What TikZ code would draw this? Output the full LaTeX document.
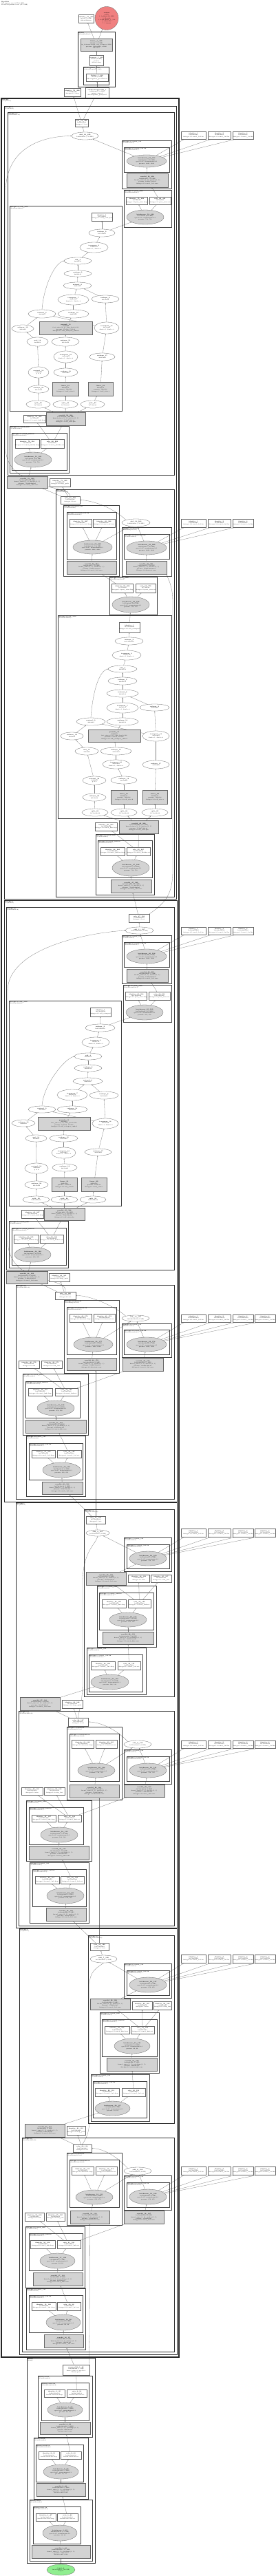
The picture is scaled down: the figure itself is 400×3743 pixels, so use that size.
\documentclass[tikz,border=0pt]{standalone}
\usepackage{tikz}
\usetikzlibrary{arrows.meta,shapes.geometric,backgrounds}

\definecolor{outred}{RGB}{240,128,128}
\definecolor{ingreen}{RGB}{144,238,144}
\definecolor{lgray}{RGB}{211,211,211}

\catcode`\_=12

\tikzset{
  every node/.style={font=\fontsize{1.9}{2.4}\selectfont, inner sep=0pt, align=center},
  wbox/.style={rectangle, draw=black!60, line width=0.3pt, fill=white},
  gbox/.style={rectangle, draw=black!60, line width=0.3pt, fill=lgray},
  well/.style={ellipse, draw=black!60, line width=0.3pt, fill=white},
  gell/.style={ellipse, draw=black!60, line width=0.3pt, fill=lgray},
  inell/.style={ellipse, draw=black!60, line width=0.3pt, fill=ingreen},
  conn/.style={draw=black!50, line width=0.3pt, -{Stealth[length=1.6pt,width=1.3pt]}},
  frA/.style={draw=black!85, line width=1.2pt},
  frB/.style={draw=black!85, line width=1pt},
  frC/.style={draw=black!80, line width=0.8pt},
  frD/.style={draw=black!75, line width=0.6pt},
  frE/.style={draw=black!75, line width=0.5pt},
  frlab/.style={anchor=north west, align=left, inner sep=0pt, xshift=1pt, yshift=-1pt,
    font=\fontsize{1.8}{2.2}\selectfont},
}

% node from its corners, cluster frame with its label
\newcommand{\nd}[7]{\node[#2, minimum width={(#5-#3)*1pt}, minimum height={(#6-#4)*1pt}] (#1) at ({(#3+#5)/2},{(#4+#6)/2}) {#7};}
\newcommand{\fr}[6]{\draw[#1] (#2,#3) rectangle (#4,#5); \node[frlab] at (#2,#3) {#6};}

% label texts
\newcommand{\Lb}[3]{\textbf{#1}\\#2\\@#3}
\newcommand{\Le}[2]{\textbf{#1}\\#2}
\newcommand{\Lg}[3]{\textbf{#1}\\#2\\eps=1e-05, momentum=0.1\\params: #3}
\newcommand{\Lc}[4]{\textbf{#1}\\#2\\kernel_size=(1, 1), stride=(1, 1)\\params: #3\\@#4}
\newcommand{\Lk}[4]{\textbf{#1}\\#2\\kernel_size=(3, 3), padding=(1, 1)\\params: #3\\@#4}
\newcommand{\Lm}[2]{\textbf{@#1}\\(#2)}

% attention layers
\newcommand{\atxt}[3]{\ifcase#1\or
\Lb{identity_#1}{#3}{stages.#2.self_attn.pool}\or
\Le{reshape_#1}{#3}\or
\textbf{transpose_#1}\\1x64x512\\dim0=-1, dim1=-2\or
\Le{add_#1}{4x64x128}\or
\Le{reshape_#1}{4x64x128}\or
\Le{matmul_#1}{4x64x128}\or
\textbf{transpose_#1}\\4x64x128\\dim0=-1, dim1=-2\or
\Le{reshape_#1}{4x128x64}\or
\Le{matmul_#1}{4x64x64}\or
\Le{reshape_#1}{4x64x128}\or
\textbf{posemb_#1}\\4x64x64\\feat_size=(8, 8), dim_head=128\\params: 15x128, 15x128\\@stages.#2.self_attn.pos_embed\or
\Le{softmax_#1}{4x64x64}\or
\textbf{transpose_#1}\\4x128x64\\dim0=-1, dim1=-2\or
\Le{mul_#1}{4x64x64}\or
\Le{reshape_#1}{4x128x64}\or
\textbf{transpose_#1}\\4x128x64\\dim0=-1, dim1=-2\or
\Le{reshape_#1}{4x128x64}\or
\textbf{matmul_#1}\\4x64x64\\q @ k\or
\Le{reshape_#1}{4x128x64}\or
\Le{reshape_#1}{4x128x64}\or
\textbf{linear_#1}\\4x64x128\\params: 128x128\\@stages.#2.self_attn.k\or
\textbf{linear_#1}\\4x64x128\\params: 128x128\\@stages.#2.self_attn.v\or
\Le{split_#1}{#3}\or
\Le{split_#1}{#3}\or
\Le{split_#1}{#3}\fi}

\newcommand{\attedges}[1]{%
  \foreach \a/\b in {2/1,3/2,4/3,5/4,6/5,7/6,8/6,10/7,11/10,12/9,13/8,13/9,14/12,15/11,16/15,17/13,18/14,19/16,20/18,21/19,22/17,23/20,24/21,25/22}{\draw[conn] (#1\a) -- (#1\b);}%
  \draw[conn] (#19.north) .. controls +(2,-30) and +(-15,4) .. (#14.west);}
\newcommand{\abedges}[2]{%
  \foreach \a/\b in {add/relu,cg/add,cc/cg,pr/cc,pg/pi,pg/pr,kc/kg,kg/ki,kg/kr,kr/qkv,kr/qi}{\draw[conn] (#1\a) -- (#1\b);}%
  \foreach \b in {23,24,25}{\draw[conn] (#1qkv) -- (#2\b);}%
  \attedges{#2}%
  \draw[conn] (#22) -- (#1pg);}
\newcommand{\dsedges}[1]{%
  \foreach \a/\b in {lc/lg,lg/li,lg/lr,lg/add,sc/sg,sg/add,kr/sc,kr/xi,kr/xj,kc/kg,kg/ki,kg/kr,mr/kc,mc/mg,mg/mi,mg/mr}{\draw[conn] (#1\a) -- (#1\b);}}
\newcommand{\idedges}[1]{%
  \foreach \a/\b in {add/relu,cg/add,cc/cg,kr/cc,kr/xi,kr/xj,kc/kg,kg/ki,kg/kr,mr/kc,mc/mg,mg/mi,mg/mr}{\draw[conn] (#1\a) -- (#1\b);}}

% row of buffer boxes on the right
\newcommand{\rrow}[7]{%
  \foreach \i/\px/\qx in {1/263/299,2/302/335,3/338/368,4/370/400}{%
    \ifnum\i>#4\relax\else
      \nd{#5\i}{wbox}{\px}{#2}{\qx}{#3}{\Lb{identity_\i}{#7}{stages.#6.conv3_1x1.bn}}%
    \fi}}
\newcommand{\redges}[3]{\foreach \i in {1,...,#2}{\draw[conn] (#1) -- ([xshift=5pt]#3\i.south west);}}

\begin{document}
\begin{tikzpicture}[x=1pt,y=-1pt]
\begin{scope}[on background layer]
  \fill[white] (0,0) rectangle (400,3743);
\end{scope}
\useasboundingbox (0,0) rectangle (400,3743);

\node[anchor=north west, align=left] (title) at (2,1.5) {\textbf{ByobNet}\\387 tensors total (171.3 MB)\\21309504 params total (81.4 MB)};

% ---------------- head
\nd{outid}{wbox}{114}{21}{136}{33}{\Lb{identity_77_333}{1x1000 (4 KB)}{head.flatten}}
\node[circle, draw=black!60, line width=0.3pt, fill=outred, minimum size=34pt] (out) at (155,26.5) {\textbf{output}\\(user)\\1. 1x1000 (3.9 KB)\\2. float32\\3. from linear_1_332\\4. @head.fc\\5. 1 tensor};
\fr{frB}{113}{46}{167}{126}{\Lm{head}{ClassifierHead}}
\nd{hdlin}{gbox}{117}{56}{163}{74}{\textbf{linear_1_332}\\1x1000 (3.9 KB)\\in_features=2048, out_features=1000\\params: 1000x2048, x1000\\@head.fc}
\nd{hddrop}{wbox}{130}{80}{150}{95}{\textbf{dropout_1_331}\\1x2048 (8 KB)\\p=0.0\\@head.drop}
\fr{frC}{121}{97}{158}{123}{\Lm{head.global_pool}{SelectAdaptivePool2d}}
\nd{hdflat}{wbox}{125}{107}{157}{118}{\Lb{flatten_1_330}{1x2048 (8 KB)}{head.global_pool.flatten}}
\nd{hdid}{wbox}{93}{128}{117}{140}{\Lb{identity_76_329}{1x2048x8x8}{stages.3.1.drop}}
\nd{hdpool}{wbox}{124}{127}{158}{142}{\textbf{adaptiveavgpool2d_1}\\1x2048x1x1 (8 KB)\\output_size=1\\@head.global_pool.pool}

\fr{frA}{2}{143}{260}{3425}{\Lm{stages}{Sequential}}

% ---------------- stage 3
\fr{frB}{6}{154}{256}{1306}{\Lm{stages.3}{Sequential}}
\fr{frC}{11}{163}{253}{690}{\Lm{stages.3.1}{SelfAttnBlock}}
\nd{s3b1relu}{wbox}{109}{173}{128}{184}{\Lb{relu_70_326}{1x2048x8x8}{stages.3.1.act}}
\nd{s3b1add}{well}{104}{192}{143}{203}{\Le{add_16_325}{1x2048x8x8 (512 KB)}}
\fr{frD}{177}{204}{249}{274}{\Lm{stages.3.1.conv3_1x1}{ConvNormAct}}
\fr{frE}{180}{214}{246}{250}{\Lm{stages.3.1.conv3_1x1.bn}{BatchNormAct2d}}
\nd{s3b1cg}{gell}{184}{225}{242}{243}{\Lg{batchnorm_53_324}{1x2048x8x8 (512 KB)}{2048, 2048}}
\nd{s3b1cc}{gbox}{184}{252}{244}{272}{\Lc{conv2d_53_323}{1x2048x8x8 (512 KB)}{2048x512x1x1}{stages.3.1.conv3_1x1.conv}}
\fr{frD}{180}{276}{249}{330}{\Lm{stages.3.1.post_attn}{BatchNormAct2d}}
\nd{s3b1pi}{wbox}{184}{286}{213}{297}{\Lb{identity_75_322}{1x512x8x8}{stages.3.1.post_attn.drop}}
\nd{s3b1pr}{wbox}{217}{286}{248}{297}{\Lb{relu_69_321}{1x512x8x8}{stages.3.1.post_attn.act}}
\nd{s3b1pg}{gell}{184}{305}{238}{326}{\Lg{batchnorm_52_320}{1x512x8x8 (128 KB)}{512, 512}}
\fr{frD}{14}{299}{177}{597}{\Lm{stages.3.1.self_attn}{BottleneckAttn}}
\foreach \i/\st/\px/\py/\qx/\qy in {1/wbox/133/309/163/321,2/well/129/333/167/344,3/well/116/352/157/367,%
4/well/93/374/133/384,5/well/93/393/133/402,6/well/92/410/133/420,7/well/84/428/129/443,8/well/133/429/173/440,%
9/well/41/450/81/462,10/well/84/450/129/462,11/gbox/57/467/134/486,12/well/17/472/49/483,13/well/137/468/173/485,%
14/well/39/490/70/503,15/well/75/490/115/503,16/well/78/510/113/527,17/well/130/513/167/524,18/well/41/533/71/549,%
19/well/78/535/113/547,20/well/41/560/71/571,21/gbox/76/555/114/575,22/gbox/128/555/164/575,%
23/well/38/582/73/593,24/well/77/582/113/593,25/well/117/582/152/593}%
  {\nd{a\i}{\st}{\px}{\py}{\qx}{\qy}{\atxt{\i}{3.1}{1x512x8x8}}}
\nd{s3b1qi}{wbox}{36}{603}{64}{614}{\Lb{identity_73_295}{1x512x8x8}{stages.3.1.conv2_kxk.drop}}
\nd{s3b1qkv}{gbox}{67}{599}{124}{618}{\Lc{conv2d_52_294}{1x1536x8x8 (384 KB)}{1536x512x1x1}{stages.3.1.self_attn.qkv}}
\fr{frD}{14}{619}{100}{687}{\Lm{stages.3.1.conv2_kxk}{ConvNormAct}}
\fr{frE}{17}{629}{97}{683}{\Lm{stages.3.1.conv2_kxk.bn}{BatchNormAct2d}}
\nd{s3b1ki}{wbox}{22}{638}{57}{651}{\Lb{identity_72_293}{1x512x8x8}{stages.3.1.conv2_kxk.bn.drop}}
\nd{s3b1kr}{wbox}{59}{638}{93}{651}{\Lb{relu_68_292}{1x512x8x8}{stages.3.1.conv2_kxk.bn.act}}
\nd{s3b1kg}{gell}{21}{657}{75}{679}{\Lg{batchnorm_51_291}{1x512x8x8 (128 KB)}{512, 512}}
\nd{s3b1kc}{gbox}{10}{692}{69}{709}{\Lc{conv2d_51_290}{1x512x8x8 (128 KB)}{512x2048x1x1}{stages.3.1.conv1_1x1.conv}}
\nd{s3b1xi}{wbox}{72}{695}{102}{707}{\Lb{identity_71_289}{1x2048x8x8}{stages.3.0.drop_path}}
\rrow{s3b1cg}{191}{202}{3}{ra}{3.1}{1x2048x8x8}

\fr{frC}{81}{711}{253}{1303}{\Lm{stages.3.0}{SelfAttnBlock}}
\nd{s3b0relu}{wbox}{88}{721}{116}{732}{\Lb{relu_67_288}{1x2048x8x8}{stages.3.0.act}}
\fr{frD}{92}{734}{173}{837}{\Lm{stages.3.0.conv3_1x1}{ConvNormAct}}
\fr{frE}{97}{744}{169}{813}{\Lm{stages.3.0.conv3_1x1.bn}{BatchNormAct2d}}
\nd{s3b0li}{wbox}{101}{754}{133}{766}{\Lb{identity_70_287}{1x2048x8x8}{stages.3.0.conv3_1x1.drop}}
\nd{s3b0lr}{wbox}{135}{754}{167}{766}{\Lb{identity_69_286}{1x2048x8x8}{stages.3.0.conv3_1x1.act}}
\nd{s3b0lg}{gell}{106}{785}{163}{805}{\Lg{batchnorm_50_285}{1x2048x8x8 (512 KB)}{2048, 2048}}
\nd{s3b0lc}{gbox}{97}{815}{169}{834}{\Lc{conv2d_50_284}{1x2048x8x8 (512 KB)}{2048x512x1x1}{stages.3.0.conv3_1x1.conv}}
\nd{s3b0add}{well}{177}{754}{218}{765}{\Le{add_14_283}{1x2048x8x8 (512 KB)}}
\fr{frD}{177}{766}{249}{837}{\Lm{stages.3.0.shortcut}{DownsampleConv}}
\fr{frE}{180}{776}{246}{812}{\Lm{stages.3.0.shortcut.conv}{ConvNormAct}}
\nd{s3b0sg}{gell}{184}{786}{242}{806}{\Lg{batchnorm_49_282}{1x2048x8x8 (512 KB)}{2048, 2048}}
\nd{s3b0sc}{gbox}{183}{815}{242}{834}{\Lc{conv2d_49_281}{1x2048x8x8 (512 KB)}{2048x1024x1x1}{stages.3.0.shortcut.conv}}
\fr{frD}{159}{838}{228}{893}{\Lm{stages.3.0.post_attn}{BatchNormAct2d}}
\nd{s3b0pi}{wbox}{163}{848}{193}{861}{\Lb{identity_68_280}{1x512x8x8}{stages.3.0.post_attn.drop}}
\nd{s3b0pr}{wbox}{197}{848}{226}{861}{\Lb{relu_66_279}{1x512x8x8}{stages.3.0.post_attn.act}}
\nd{s3b0pg}{gell}{163}{867}{217}{890}{\Lg{batchnorm_48_278}{1x512x8x8 (128 KB)}{512, 512}}
\fr{frD}{84}{894}{249}{1189}{\Lm{stages.3.0.self_attn}{BottleneckAttn}}
\foreach \i/\st/\px/\py/\qx/\qy in {1/wbox/173/904/203/919,2/well/167/926/208/937,3/well/163/945/205/959,%
4/well/157/967/199/977,5/well/157/984/199/995,6/well/155/1002/201/1013,7/well/155/1021/201/1036,8/well/203/1023/246/1033,%
9/well/111/1043/153/1054,10/well/155/1043/201/1054,11/gbox/128/1060/204/1078,12/well/88/1064/121/1075,13/well/207/1062/246/1077,%
14/well/109/1086/143/1097,15/well/146/1086/191/1097,16/well/149/1104/188/1117,17/well/207/1105/246/1117,18/well/120/1128/154/1140,%
19/well/161/1128/199/1139,20/well/120/1153/154/1164,21/gbox/161/1148/199/1168,22/gbox/207/1148/243/1168,%
23/well/119/1175/157/1186,24/well/161/1175/199/1186,25/well/206/1175/244/1186}%
  {\nd{b\i}{\st}{\px}{\py}{\qx}{\qy}{\atxt{\i}{3.0}{1x512x16x16}}}
\nd{s3b0qi}{wbox}{139}{1195}{169}{1207}{\Lb{identity_65_250}{1x512x16x16}{stages.3.0.conv2_kxk.drop}}
\nd{s3b0qkv}{gbox}{173}{1192}{230}{1211}{\Lc{conv2d_48_249}{1x1536x16x16 (1.5 MB)}{1536x512x1x1}{stages.3.0.self_attn.qkv}}
\fr{frD}{139}{1212}{224}{1300}{\Lm{stages.3.0.conv2_kxk}{ConvNormAct}}
\fr{frE}{142}{1221}{221}{1275}{\Lm{stages.3.0.conv2_kxk.bn}{BatchNormAct2d}}
\nd{s3b0ki}{wbox}{146}{1231}{181}{1243}{\Lb{identity_64_248}{1x512x16x16}{stages.3.0.conv2_kxk.bn.drop}}
\nd{s3b0kr}{wbox}{184}{1231}{218}{1243}{\Lb{relu_65_247}{1x512x16x16}{stages.3.0.conv2_kxk.bn.act}}
\nd{s3b0kg}{gell}{163}{1249}{217}{1273}{\Lg{batchnorm_47_246}{1x512x16x16 (512 KB)}{512, 512}}
\nd{s3b0kc}{gbox}{161}{1278}{220}{1297}{\Lc{conv2d_47_245}{1x512x16x16 (512 KB)}{512x1024x1x1}{stages.3.0.conv1_1x1.conv}}
\rrow{s3b0sg}{754}{766}{3}{rb}{3.0}{1x2048x8x8}

% ---------------- stage 2
\fr{frB}{6}{1308}{257}{2182}{\Lm{stages.2}{Sequential}}
\fr{frC}{9}{1318}{253}{1845}{\Lm{stages.2.1}{SelfAttnBlock}}
\nd{s2b1relu}{wbox}{187}{1328}{217}{1340}{\Lb{relu_47_218}{1x1024x16x16}{stages.2.1.act}}
\nd{s2b1add}{well}{182}{1347}{223}{1357}{\Le{add_11_217}{1x1024x16x16 (1 MB)}}
\fr{frD}{177}{1359}{249}{1429}{\Lm{stages.2.1.conv3_1x1}{ConvNormAct}}
\fr{frE}{180}{1369}{246}{1405}{\Lm{stages.2.1.conv3_1x1.bn}{BatchNormAct2d}}
\nd{s2b1cg}{gell}{184}{1379}{242}{1400}{\Lg{batchnorm_36_216}{1x1024x16x16 (1 MB)}{1024, 1024}}
\nd{s2b1cc}{gbox}{184}{1408}{244}{1427}{\Lc{conv2d_36_215}{1x1024x16x16 (1 MB)}{1024x256x1x1}{stages.2.1.conv3_1x1.conv}}
\fr{frD}{179}{1431}{249}{1485}{\Lm{stages.2.1.post_attn}{BatchNormAct2d}}
\nd{s2b1pi}{wbox}{183}{1441}{213}{1453}{\Lb{identity_46_214}{1x256x16x16}{stages.2.1.post_attn.drop}}
\nd{s2b1pr}{wbox}{216}{1441}{247}{1453}{\Lb{relu_46_213}{1x256x16x16}{stages.2.1.post_attn.act}}
\nd{s2b1pg}{gell}{183}{1460}{237}{1482}{\Lg{batchnorm_35_212}{1x256x16x16 (256 KB)}{256, 256}}
\fr{frD}{13}{1454}{176}{1752}{\Lm{stages.2.1.self_attn}{BottleneckAttn}}
\foreach \i/\st/\px/\py/\qx/\qy in {1/wbox/131/1464/161/1477,2/well/124/1488/167/1499,3/well/119/1507/159/1522,%
4/well/108/1530/148/1540,5/well/108/1547/148/1557,6/well/106/1566/149/1576,7/well/83/1583/127/1599,8/well/130/1586/172/1597,%
9/well/41/1607/81/1617,10/well/83/1607/127/1617,11/gbox/55/1623/131/1642,12/well/17/1627/51/1637,13/well/134/1625/172/1640,%
14/well/37/1649/68/1659,15/well/72/1649/113/1659,16/well/75/1667/110/1683,17/well/123/1669/162/1679,18/well/36/1690/70/1705,%
19/well/76/1691/112/1702,20/well/36/1716/70/1727,21/gbox/75/1711/112/1731,22/gbox/118/1711/155/1731,%
23/well/33/1738/72/1748,24/well/74/1738/113/1748,25/well/116/1738/154/1748}%
  {\nd{c\i}{\st}{\px}{\py}{\qx}{\qy}{\atxt{\i}{2.1}{1x256x16x16}}}
\nd{s2b1qi}{wbox}{32}{1758}{62}{1770}{\Lb{identity_45_187}{1x256x16x16}{stages.2.1.conv2_kxk.drop}}
\nd{s2b1qkv}{gbox}{64}{1755}{123}{1773}{\Lc{conv2d_35_186}{1x768x16x16 (768 KB)}{768x256x1x1}{stages.2.1.self_attn.qkv}}
\fr{frD}{13}{1774}{99}{1842}{\Lm{stages.2.1.conv2_kxk}{ConvNormAct}}
\fr{frE}{17}{1784}{96}{1838}{\Lm{stages.2.1.conv2_kxk.bn}{BatchNormAct2d}}
\nd{s2b1ki}{wbox}{21}{1794}{55}{1806}{\Lb{identity_44_185}{1x256x16x16}{stages.2.1.conv2_kxk.bn.drop}}
\nd{s2b1kr}{wbox}{58}{1794}{92}{1806}{\Lb{relu_45_184}{1x256x16x16}{stages.2.1.conv2_kxk.bn.act}}
\nd{s2b1kg}{gell}{21}{1812}{74}{1834}{\Lg{batchnorm_34_183}{1x256x16x16 (256 KB)}{256, 256}}
\nd{s2b1kc}{gbox}{9}{1847}{69}{1865}{\Lc{conv2d_34_182}{1x256x16x16 (256 KB)}{256x1024x1x1}{stages.2.1.conv1_1x1.conv}}
\nd{s2b1xi}{wbox}{71}{1850}{101}{1862}{\Lb{identity_43_181}{1x1024x16x16}{stages.2.0.drop_path}}
\rrow{s2b1cg}{1347}{1358}{3}{rc}{2.1}{1x1024x16x16}

\fr{frC}{23}{1867}{253}{2178}{\Lm{stages.2.0}{BottleneckBlock}}
\nd{s2b0relu}{wbox}{80}{1877}{110}{1888}{\Lb{relu_44_180}{1x1024x16x16}{stages.2.0.act}}
\fr{frD}{93}{1889}{173}{1995}{\Lm{stages.2.0.shortcut}{DownsampleConv}}
\fr{frE}{97}{1899}{169}{1968}{\Lm{stages.2.0.shortcut.bn}{BatchNormAct2d}}
\nd{s2b0li}{wbox}{101}{1909}{133}{1921}{\Lb{identity_42_179}{1x1024x16x16}{stages.2.0.shortcut.drop}}
\nd{s2b0lr}{wbox}{136}{1909}{167}{1921}{\Lb{identity_41_178}{1x1024x16x16}{stages.2.0.shortcut.act}}
\nd{s2b0lg}{gell}{107}{1943}{164}{1964}{\Lg{batchnorm_33_177}{1x1024x16x16 (1 MB)}{1024, 1024}}
\nd{s2b0lc}{gbox}{97}{1973}{169}{1991}{\Lc{conv2d_33_176}{1x1024x16x16 (1 MB)}{1024x512x1x1}{stages.2.0.shortcut.conv}}
\nd{s2b0add}{well}{177}{1911}{217}{1920}{\Le{add_10_175}{1x1024x16x16 (1 MB)}}
\fr{frD}{177}{1923}{249}{1972}{\Lm{stages.2.0.conv3_1x1}{ConvNormAct}}
\fr{frE}{180}{1932}{246}{1968}{\Lm{stages.2.0.conv3_1x1.bn}{BatchNormAct2d}}
\nd{s2b0sg}{gell}{184}{1943}{242}{1964}{\Lg{batchnorm_32_174}{1x1024x16x16 (1 MB)}{1024, 1024}}
\nd{s2b0sc}{gbox}{178}{1973}{237}{1992}{\Lc{conv2d_32_173}{1x1024x16x16 (1 MB)}{1024x256x1x1}{stages.2.0.conv3_1x1.conv}}
\nd{s2b0xi}{wbox}{27}{1977}{57}{1988}{\Lb{identity_40_172}{1x256x16x16}{stages.2.0.attn}}
\nd{s2b0xj}{wbox}{60}{1977}{90}{1988}{\Lb{identity_39_171}{1x256x16x16}{stages.2.0.attn_last}}
\fr{frD}{33}{1996}{128}{2085}{\Lm{stages.2.0.conv2_kxk}{ConvNormAct}}
\fr{frE}{37}{2007}{116}{2060}{\Lm{stages.2.0.conv2_kxk.bn}{BatchNormAct2d}}
\nd{s2b0ki}{wbox}{41}{2017}{76}{2028}{\Lb{identity_38_170}{1x256x16x16}{stages.2.0.conv2_kxk.drop}}
\nd{s2b0kr}{wbox}{80}{2017}{113}{2028}{\Lb{relu_43_169}{1x256x16x16}{stages.2.0.conv2_kxk.act}}
\nd{s2b0kg}{gell}{54}{2035}{108}{2057}{\Lg{batchnorm_31_168}{1x256x16x16 (256 KB)}{256, 256}}
\nd{s2b0kc}{gbox}{37}{2063}{125}{2082}{\Lk{conv2d_31_167}{1x256x16x16 (256 KB)}{256x256x3x3}{stages.2.0.conv2_kxk.conv}}
\fr{frD}{38}{2086}{124}{2174}{\Lm{stages.2.0.conv1_1x1}{ConvNormAct}}
\fr{frE}{42}{2097}{120}{2150}{\Lm{stages.2.0.conv1_1x1.bn}{BatchNormAct2d}}
\nd{s2b0mi}{wbox}{46}{2107}{80}{2118}{\Lb{identity_37_166}{1x256x32x32}{stages.2.0.conv1_1x1.drop}}
\nd{s2b0mr}{wbox}{83}{2107}{118}{2118}{\Lb{relu_42_165}{1x256x32x32}{stages.2.0.conv1_1x1.act}}
\nd{s2b0mg}{gell}{62}{2125}{117}{2147}{\Lg{batchnorm_30_164}{1x256x32x32 (1 MB)}{256, 256}}
\nd{s2b0mc}{gbox}{61}{2153}{120}{2171}{\Lc{conv2d_30_163}{1x256x32x32 (1 MB)}{256x512x1x1}{stages.2.0.conv1_1x1.conv}}
\rrow{s2b0sg}{1910}{1921}{4}{rd}{2.0}{1x1024x16x16}

% ---------------- stage 1
\fr{frB}{23}{2183}{257}{2801}{\Lm{stages.1}{Sequential}}
\fr{frC}{122}{2193}{253}{2465}{\Lm{stages.1.1}{BottleneckBlock}}
\nd{s1b1relu}{wbox}{125}{2203}{153}{2214}{\Lb{relu_41_162}{1x512x32x32}{stages.1.1.act}}
\nd{s1b1add}{well}{125}{2223}{159}{2232}{\Le{add_9_161}{1x512x32x32 (2 MB)}}
\fr{frD}{180}{2234}{249}{2283}{\Lm{stages.1.1.conv3_1x1}{ConvNormAct}}
\fr{frE}{184}{2244}{246}{2279}{\Lm{stages.1.1.conv3_1x1.bn}{BatchNormAct2d}}
\nd{s1b1cg}{gell}{188}{2254}{242}{2275}{\Lg{batchnorm_29_160}{1x512x32x32 (2 MB)}{512, 512}}
\nd{s1b1cc}{gbox}{125}{2284}{183}{2303}{\Lc{conv2d_29_159}{1x512x32x32 (2 MB)}{512x128x1x1}{stages.1.1.conv3_1x1.conv}}
\nd{s1b1xi}{wbox}{186}{2288}{217}{2299}{\Lb{identity_36_158}{1x128x32x32}{stages.1.1.attn}}
\nd{s1b1xj}{wbox}{219}{2288}{249}{2299}{\Lb{identity_35_157}{1x128x32x32}{stages.1.1.attn_last}}
\fr{frD}{141}{2304}{227}{2393}{\Lm{stages.1.1.conv2_kxk}{ConvNormAct}}
\fr{frE}{144}{2314}{223}{2368}{\Lm{stages.1.1.conv2_kxk.bn}{BatchNormAct2d}}
\nd{s1b1ki}{wbox}{148}{2324}{183}{2336}{\Lb{identity_34_156}{1x128x32x32}{stages.1.1.conv2_kxk.drop}}
\nd{s1b1kr}{wbox}{186}{2324}{219}{2336}{\Lb{relu_40_155}{1x128x32x32}{stages.1.1.conv2_kxk.act}}
\nd{s1b1kg}{gell}{159}{2343}{213}{2364}{\Lg{batchnorm_28_154}{1x128x32x32 (512 KB)}{128, 128}}
\nd{s1b1kc}{gbox}{149}{2371}{223}{2389}{\Lk{conv2d_28_153}{1x128x32x32 (512 KB)}{128x128x3x3}{stages.1.1.conv2_kxk.conv}}
\fr{frD}{126}{2394}{212}{2462}{\Lm{stages.1.1.conv1_1x1}{ConvNormAct}}
\fr{frE}{129}{2404}{207}{2458}{\Lm{stages.1.1.conv1_1x1.bn}{BatchNormAct2d}}
\nd{s1b1mi}{wbox}{132}{2414}{167}{2426}{\Lb{identity_33_152}{1x128x32x32}{stages.1.1.conv1_1x1.drop}}
\nd{s1b1mr}{wbox}{171}{2414}{204}{2426}{\Lb{relu_39_151}{1x128x32x32}{stages.1.1.conv1_1x1.act}}
\nd{s1b1mg}{gell}{132}{2433}{187}{2455}{\Lg{batchnorm_27_150}{1x128x32x32 (512 KB)}{128, 128}}
\nd{s1b1mc}{gbox}{29}{2466}{87}{2485}{\Lc{conv2d_27_149}{1x128x32x32 (512 KB)}{128x512x1x1}{stages.1.1.conv1_1x1.conv}}
\nd{s1b1yi}{wbox}{90}{2470}{120}{2482}{\Lb{identity_32_148}{1x512x32x32}{stages.1.0.drop_path}}
\rrow{s1b1cg}{2221}{2233}{4}{re}{1.1}{1x512x32x32}

\fr{frC}{27}{2486}{253}{2798}{\Lm{stages.1.0}{BottleneckBlock}}
\nd{s1b0relu}{wbox}{99}{2496}{128}{2508}{\Lb{relu_38_147}{1x512x32x32}{stages.1.0.act}}
\fr{frD}{97}{2509}{177}{2615}{\Lm{stages.1.0.shortcut}{DownsampleConv}}
\fr{frE}{101}{2519}{173}{2588}{\Lm{stages.1.0.shortcut.bn}{BatchNormAct2d}}
\nd{s1b0li}{wbox}{104}{2528}{136}{2540}{\Lb{identity_31_146}{1x512x32x32}{stages.1.0.shortcut.drop}}
\nd{s1b0lr}{wbox}{139}{2528}{170}{2540}{\Lb{identity_30_145}{1x512x32x32}{stages.1.0.shortcut.act}}
\nd{s1b0lg}{gell}{113}{2562}{167}{2583}{\Lg{batchnorm_26_144}{1x512x32x32 (2 MB)}{512, 512}}
\nd{s1b0lc}{gbox}{101}{2593}{173}{2612}{\Lc{conv2d_26_143}{1x512x32x32 (2 MB)}{512x256x1x1}{stages.1.0.shortcut.conv}}
\nd{s1b0add}{well}{180}{2529}{220}{2540}{\Le{add_8_142}{1x512x32x32 (2 MB)}}
\fr{frD}{180}{2542}{249}{2592}{\Lm{stages.1.0.conv3_1x1}{ConvNormAct}}
\fr{frE}{184}{2552}{246}{2588}{\Lm{stages.1.0.conv3_1x1.bn}{BatchNormAct2d}}
\nd{s1b0sg}{gell}{188}{2562}{242}{2583}{\Lg{batchnorm_25_141}{1x512x32x32 (2 MB)}{512, 512}}
\nd{s1b0sc}{gbox}{180}{2593}{239}{2611}{\Lc{conv2d_25_140}{1x512x32x32 (2 MB)}{512x128x1x1}{stages.1.0.conv3_1x1.conv}}
\nd{s1b0xi}{wbox}{31}{2597}{62}{2608}{\Lb{identity_29_139}{1x128x32x32}{stages.1.0.attn}}
\nd{s1b0xj}{wbox}{64}{2597}{94}{2608}{\Lb{identity_28_138}{1x128x32x32}{stages.1.0.attn_last}}
\fr{frD}{38}{2616}{133}{2704}{\Lm{stages.1.0.conv2_kxk}{ConvNormAct}}
\fr{frE}{42}{2626}{121}{2680}{\Lm{stages.1.0.conv2_kxk.bn}{BatchNormAct2d}}
\nd{s1b0ki}{wbox}{46}{2637}{81}{2647}{\Lb{identity_27_137}{1x128x32x32}{stages.1.0.conv2_kxk.drop}}
\nd{s1b0kr}{wbox}{84}{2637}{118}{2647}{\Lb{relu_37_136}{1x128x32x32}{stages.1.0.conv2_kxk.act}}
\nd{s1b0kg}{gell}{59}{2655}{113}{2677}{\Lg{batchnorm_24_135}{1x128x32x32 (512 KB)}{128, 128}}
\nd{s1b0kc}{gbox}{42}{2682}{129}{2702}{\Lk{conv2d_24_134}{1x128x32x32 (512 KB)}{128x128x3x3}{stages.1.0.conv2_kxk.conv}}
\fr{frD}{43}{2706}{129}{2794}{\Lm{stages.1.0.conv1_1x1}{ConvNormAct}}
\fr{frE}{47}{2716}{125}{2770}{\Lm{stages.1.0.conv1_1x1.bn}{BatchNormAct2d}}
\nd{s1b0mi}{wbox}{51}{2726}{86}{2737}{\Lb{identity_26_133}{1x128x64x64}{stages.1.0.conv1_1x1.drop}}
\nd{s1b0mr}{wbox}{88}{2726}{122}{2737}{\Lb{relu_36_132}{1x128x64x64}{stages.1.0.conv1_1x1.act}}
\nd{s1b0mg}{gell}{68}{2743}{122}{2766}{\Lg{batchnorm_23_131}{1x128x64x64 (2 MB)}{128, 128}}
\nd{s1b0mc}{gbox}{67}{2772}{125}{2791}{\Lc{conv2d_23_130}{1x128x64x64 (2 MB)}{128x256x1x1}{stages.1.0.conv1_1x1.conv}}
\rrow{s1b0sg}{2529}{2540}{4}{rf}{1.0}{1x512x32x32}

% ---------------- stage 0
\fr{frB}{28}{2802}{257}{3421}{\Lm{stages.0}{Sequential}}
\fr{frC}{128}{2812}{253}{3085}{\Lm{stages.0.1}{BottleneckBlock}}
\nd{s0b1relu}{wbox}{131}{2823}{158}{2834}{\Lb{relu_35_129}{1x256x64x64}{stages.0.1.act}}
\nd{s0b1add}{well}{131}{2841}{170}{2852}{\Le{add_7_128}{1x256x64x64 (4 MB)}}
\fr{frD}{180}{2853}{249}{2903}{\Lm{stages.0.1.conv3_1x1}{ConvNormAct}}
\fr{frE}{184}{2863}{246}{2899}{\Lm{stages.0.1.conv3_1x1.bn}{BatchNormAct2d}}
\nd{s0b1cg}{gell}{188}{2873}{242}{2895}{\Lg{batchnorm_22_127}{1x256x64x64 (4 MB)}{256, 256}}
\nd{s0b1cc}{gbox}{131}{2904}{189}{2920}{\Lc{conv2d_22_126}{1x256x64x64 (4 MB)}{256x64x1x1}{stages.0.1.conv3_1x1.conv}}
\nd{s0b1xi}{wbox}{192}{2908}{221}{2920}{\Lb{identity_25_125}{1x64x64x64}{stages.0.1.attn}}
\nd{s0b1xj}{wbox}{223}{2908}{249}{2920}{\Lb{identity_24_124}{1x64x64x64}{stages.0.1.attn_last}}
\fr{frD}{145}{2924}{231}{3012}{\Lm{stages.0.1.conv2_kxk}{ConvNormAct}}
\fr{frE}{148}{2934}{228}{2988}{\Lm{stages.0.1.conv2_kxk.bn}{BatchNormAct2d}}
\nd{s0b1ki}{wbox}{152}{2944}{188}{2955}{\Lb{identity_23_123}{1x64x64x64}{stages.0.1.conv2_kxk.drop}}
\nd{s0b1kr}{wbox}{190}{2944}{224}{2955}{\Lb{relu_34_122}{1x64x64x64}{stages.0.1.conv2_kxk.act}}
\nd{s0b1kg}{gell}{166}{2962}{218}{2984}{\Lg{batchnorm_21_121}{1x64x64x64 (1 MB)}{64, 64}}
\nd{s0b1kc}{gbox}{155}{2990}{228}{3009}{\Lk{conv2d_21_120}{1x64x64x64 (1 MB)}{64x64x3x3}{stages.0.1.conv2_kxk.conv}}
\fr{frD}{132}{3014}{217}{3082}{\Lm{stages.0.1.conv1_1x1}{ConvNormAct}}
\fr{frE}{135}{3024}{213}{3077}{\Lm{stages.0.1.conv1_1x1.bn}{BatchNormAct2d}}
\nd{s0b1mi}{wbox}{138}{3034}{173}{3046}{\Lb{identity_22_119}{1x64x64x64}{stages.0.1.conv1_1x1.drop}}
\nd{s0b1mr}{wbox}{177}{3034}{211}{3046}{\Lb{relu_33_118}{1x64x64x64}{stages.0.1.conv1_1x1.act}}
\nd{s0b1mg}{gell}{138}{3053}{189}{3074}{\Lg{batchnorm_20_117}{1x64x64x64 (1 MB)}{64, 64}}
\nd{s0b1mc}{gbox}{36}{3086}{94}{3105}{\Lc{conv2d_20_116}{1x64x64x64 (1 MB)}{64x256x1x1}{stages.0.1.conv1_1x1.conv}}
\nd{s0b1yi}{wbox}{97}{3089}{124}{3102}{\Lb{identity_21_115}{1x256x64x64}{stages.0.0.drop_path}}
\rrow{s0b1cg}{2840}{2852}{4}{rg}{0.1}{1x256x64x64}

\fr{frC}{32}{3106}{253}{3417}{\Lm{stages.0.0}{BottleneckBlock}}
\nd{s0b0relu}{wbox}{106}{3116}{133}{3127}{\Lb{relu_32_114}{1x256x64x64}{stages.0.0.act}}
\fr{frD}{97}{3128}{177}{3233}{\Lm{stages.0.0.shortcut}{DownsampleConv}}
\fr{frE}{101}{3138}{173}{3207}{\Lm{stages.0.0.shortcut.bn}{BatchNormAct2d}}
\nd{s0b0li}{wbox}{104}{3148}{136}{3160}{\Lb{identity_20_113}{1x256x64x64}{stages.0.0.shortcut.drop}}
\nd{s0b0lr}{wbox}{139}{3148}{170}{3160}{\Lb{identity_19_112}{1x256x64x64}{stages.0.0.shortcut.act}}
\nd{s0b0lg}{gell}{110}{3182}{164}{3203}{\Lg{batchnorm_19_111}{1x256x64x64 (4 MB)}{256, 256}}
\nd{s0b0lc}{gbox}{102}{3212}{159}{3231}{\Lc{conv2d_19_110}{1x256x64x64 (4 MB)}{256x64x1x1}{stages.0.0.shortcut.conv}}
\nd{s0b0add}{well}{180}{3149}{220}{3160}{\Le{add_6_109}{1x256x64x64 (4 MB)}}
\fr{frD}{180}{3161}{249}{3211}{\Lm{stages.0.0.conv3_1x1}{ConvNormAct}}
\fr{frE}{184}{3171}{246}{3207}{\Lm{stages.0.0.conv3_1x1.bn}{BatchNormAct2d}}
\nd{s0b0sg}{gell}{188}{3181}{242}{3203}{\Lg{batchnorm_18_108}{1x256x64x64 (4 MB)}{256, 256}}
\nd{s0b0sc}{gbox}{180}{3212}{238}{3231}{\Lc{conv2d_18_107}{1x256x64x64 (4 MB)}{256x64x1x1}{stages.0.0.conv3_1x1.conv}}
\nd{s0b0xi}{wbox}{36}{3215}{64}{3227}{\Lb{identity_18_106}{1x64x64x64}{stages.0.0.attn}}
\nd{s0b0xj}{wbox}{67}{3215}{94}{3227}{\Lb{identity_17_105}{1x64x64x64}{stages.0.0.attn_last}}
\fr{frD}{37}{3235}{123}{3324}{\Lm{stages.0.0.conv2_kxk}{ConvNormAct}}
\fr{frE}{42}{3245}{120}{3299}{\Lm{stages.0.0.conv2_kxk.bn}{BatchNormAct2d}}
\nd{s0b0ki}{wbox}{44}{3255}{80}{3267}{\Lb{identity_16_104}{1x64x64x64}{stages.0.0.conv2_kxk.drop}}
\nd{s0b0kr}{wbox}{83}{3255}{117}{3267}{\Lb{relu_31_103}{1x64x64x64}{stages.0.0.conv2_kxk.act}}
\nd{s0b0kg}{gell}{58}{3274}{109}{3296}{\Lg{batchnorm_17_102}{1x64x64x64 (1 MB)}{64, 64}}
\nd{s0b0kc}{gbox}{48}{3302}{120}{3321}{\Lk{conv2d_17_101}{1x64x64x64 (1 MB)}{64x64x3x3}{stages.0.0.conv2_kxk.conv}}
\fr{frD}{38}{3325}{124}{3414}{\Lm{stages.0.0.conv1_1x1}{ConvNormAct}}
\fr{frE}{42}{3335}{120}{3389}{\Lm{stages.0.0.conv1_1x1.bn}{BatchNormAct2d}}
\nd{s0b0mi}{wbox}{46}{3345}{81}{3357}{\Lb{identity_15_100}{1x64x64x64}{stages.0.0.conv1_1x1.drop}}
\nd{s0b0mr}{wbox}{83}{3345}{117}{3357}{\Lb{relu_30_99}{1x64x64x64}{stages.0.0.conv1_1x1.act}}
\nd{s0b0mg}{gell}{67}{3363}{117}{3386}{\Lg{batchnorm_16_98}{1x64x64x64 (1 MB)}{64, 64}}
\nd{s0b0mc}{gbox}{64}{3392}{121}{3411}{\Lc{conv2d_16_97}{1x64x64x64 (1 MB)}{64x64x1x1}{stages.0.0.conv1_1x1.conv}}
\rrow{s0b0sg}{3148}{3160}{4}{rh}{0.0}{1x256x64x64}

% ---------------- stem
\fr{frB}{39}{3426}{138}{3724}{\Lm{stem}{Stem}}
\nd{stpool}{wbox}{91}{3436}{130}{3451}{\textbf{maxpool2d_1_96}\\1x64x64x64 (1 MB)\\kernel_size=3, stride=2\\@stem.pool}
\fr{frD}{55}{3452}{134}{3541}{\Lm{stem.conv3}{ConvNormAct}}
\fr{frE}{60}{3462}{129}{3517}{\Lm{stem.conv3.bn}{BatchNormAct2d}}
\nd{st3i}{wbox}{64}{3472}{94}{3483}{\Lb{identity_3_95}{1x64x128x128}{stem.conv3.bn.drop}}
\nd{st3r}{wbox}{97}{3472}{126}{3483}{\Lb{relu_3_94}{1x64x128x128}{stem.conv3.bn.act}}
\nd{st3g}{gell}{69}{3491}{120}{3512}{\Lg{batchnorm_3_93}{1x64x128x128 (4 MB)}{64, 64}}
\nd{st3c}{gbox}{58}{3519}{131}{3537}{\Lk{conv2d_3_92}{1x64x128x128 (4 MB)}{64x32x3x3}{stem.conv3.conv}}
\fr{frD}{49}{3542}{128}{3631}{\Lm{stem.conv2}{ConvNormAct}}
\fr{frE}{52}{3552}{121}{3606}{\Lm{stem.conv2.bn}{BatchNormAct2d}}
\nd{st2i}{wbox}{56}{3562}{86}{3573}{\Lb{identity_2_91}{1x32x128x128}{stem.conv2.bn.drop}}
\nd{st2r}{wbox}{88}{3562}{118}{3573}{\Lb{relu_2_90}{1x32x128x128}{stem.conv2.bn.act}}
\nd{st2g}{gell}{63}{3581}{114}{3602}{\Lg{batchnorm_2_89}{1x32x128x128 (2 MB)}{32, 32}}
\nd{st2c}{gbox}{53}{3608}{124}{3627}{\Lk{conv2d_2_88}{1x32x128x128 (2 MB)}{32x24x3x3}{stem.conv2.conv}}
\fr{frD}{43}{3632}{134}{3721}{\Lm{stem.conv1}{ConvNormAct}}
\fr{frE}{48}{3642}{117}{3696}{\Lm{stem.conv1.bn}{BatchNormAct2d}}
\nd{st1i}{wbox}{52}{3652}{81}{3663}{\Lb{identity_1_87}{1x24x128x128}{stem.conv1.bn.drop}}
\nd{st1r}{wbox}{83}{3652}{113}{3663}{\Lb{relu_1_86}{1x24x128x128}{stem.conv1.bn.act}}
\nd{st1g}{gell}{62}{3669}{112}{3692}{\Lg{batchnorm_1_85}{1x24x128x128 (1.5 MB)}{24, 24}}
\nd{st1c}{gbox}{46}{3698}{131}{3717}{\Lk{conv2d_1_84}{1x24x128x128 (1.5 MB)}{24x3x3x3}{stem.conv1.conv}}
\nd{input}{inell}{68}{3726}{109}{3742}{\textbf{input_1}\\1x3x256x256 (768 KB)\\@input}

% ---------------- connectors
\begin{scope}[on background layer]
\foreach \a/\b in {s3b1relu/hdid,s3b1relu/hdpool,hdpool/hdflat,hdflat/hddrop,hddrop/hdlin,hdlin/out,hdlin/outid}{\draw[conn] (\a) -- (\b);}
% stage 3
\abedges{s3b1}{a}
\redges{s3b1cg}{3}{ra}
\foreach \a/\b in {lg/add,sg/add,sc/sg,lc/lg,lg/li,lg/lr,pi/lc,pg/pi,pg/pr,kc/kg,kg/ki,kg/kr,kr/qkv,kr/qi}{\draw[conn] (s3b0\a) -- (s3b0\b);}
\foreach \b in {23,24,25}{\draw[conn] (s3b0qkv) -- (b\b);}
\attedges{b}
\draw[conn] (b1) -- (s3b0pg);
\redges{s3b0sg}{3}{rb}
\draw[conn] (s3b0add.north west) .. controls (165,738) and (135,727) .. (s3b0relu.east);
\draw[conn] (s3b0relu) -- (s3b1kc);
\draw[conn] (s3b0relu) -- (s3b1xi);
\draw[conn] (s3b0relu.north) .. controls (104,705) and (8,712) .. (8,650) -- (8,280) .. controls (8,215) and (60,198) .. (s3b1add.west);
% stage 2
\abedges{s2b1}{c}
\redges{s2b1cg}{3}{rc}
\draw[conn] (s2b1relu) -- (s3b0kc);
\draw[conn] (s2b1relu.north east) .. controls (240,1312) and (251,1300) .. (251,1265) -- (251,875) .. controls (251,850) and (244,842) .. (s3b0sc.south east);
\dsedges{s2b0}
\redges{s2b0sg}{4}{rd}
\draw[conn] (s2b0add.north west) .. controls (165,1897) and (130,1882) .. (s2b0relu.east);
\draw[conn] (s2b0relu) -- (s2b1kc);
\draw[conn] (s2b0relu) -- (s2b1xi);
\draw[conn] (s2b0relu.north) .. controls (100,1852) and (11,1872) .. (11,1800) -- (11,1440) .. controls (11,1380) and (120,1356) .. (s2b1add.west);
% stage 1
\idedges{s1b1}
\redges{s1b1cg}{4}{re}
\draw[conn] (s1b1relu.north) -- (s1b1relu.north |- s2b0lc.south);
\draw[conn] (s1b1relu) -- (s2b0mc);
\dsedges{s1b0}
\redges{s1b0sg}{4}{rf}
\draw[conn] (s1b0add.north west) .. controls (168,2512) and (145,2502) .. (s1b0relu.east);
\draw[conn] (s1b0relu) -- (s1b1mc);
\draw[conn] (s1b0relu) -- (s1b1yi);
\draw[conn] (s1b0relu.north) .. controls (116,2480) and (120,2470) .. (120,2445) -- (120,2300) .. controls (120,2255) and (138,2245) .. (s1b1add.south);
% stage 0
\idedges{s0b1}
\redges{s0b1cg}{4}{rg}
\draw[conn] (s0b1relu.north) -- (s0b1relu.north |- s1b0lc.south);
\draw[conn] (s0b1relu) -- (s1b0mc);
\dsedges{s0b0}
\redges{s0b0sg}{4}{rh}
\draw[conn] (s0b0add.north west) .. controls (168,3132) and (150,3122) .. (s0b0relu.east);
\draw[conn] (s0b0relu) -- (s0b1mc);
\draw[conn] (s0b0relu) -- (s0b1yi);
\draw[conn] (s0b0relu.north) .. controls (130,3100) and (130,3092) .. (130,3065) -- (130,2885) .. controls (130,2864) and (140,2860) .. (s0b1add.south);
% stem
\foreach \a/\b in {input/st1c,st1c/st1g,st1g/st1i,st1g/st1r,st1r/st2c,st2c/st2g,st2g/st2i,st2g/st2r,st2r/st3c,st3c/st3g,st3g/st3i,st3g/st3r,st3r/stpool}{\draw[conn] (\a) -- (\b);}
\draw[conn] (stpool) -- (s0b0mc);
\draw[conn] (stpool.north east) .. controls (128,3425) and (130,3405) .. (130,3385) -- (s0b0lc.south);
\end{scope}
\end{tikzpicture}
\end{document}
